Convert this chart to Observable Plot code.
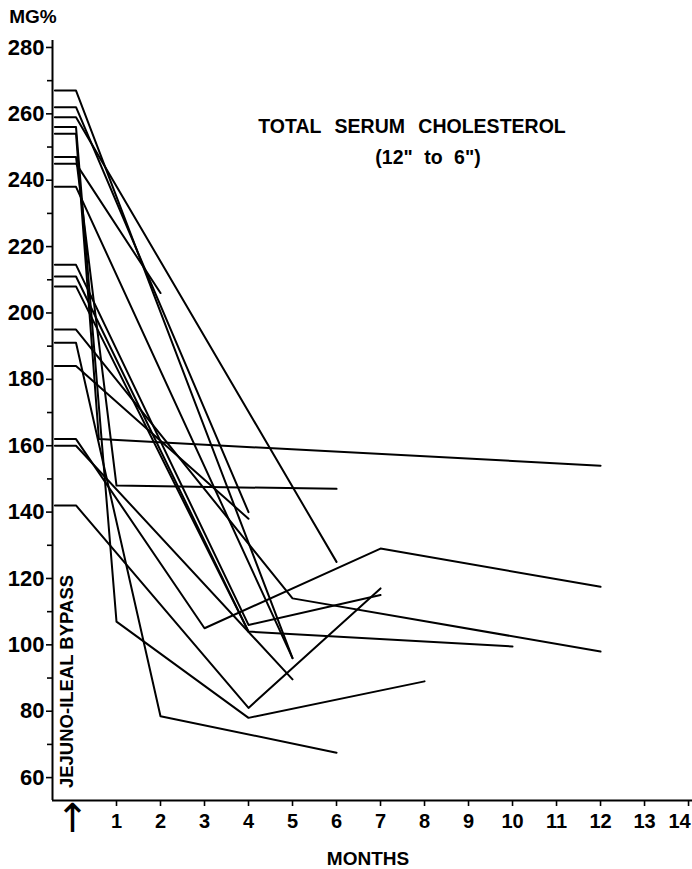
<!DOCTYPE html>
<html>
<head>
<meta charset="utf-8">
<script src="https://cdn.jsdelivr.net/npm/d3@7"></script>
<script src="https://cdn.jsdelivr.net/npm/@observablehq/plot@0.6"></script>
<style>
  html, body { margin: 0; padding: 0; background: #fff; }
  #wrap { position: relative; width: 692px; height: 869px; overflow: hidden; font-family: "Liberation Sans", Arial, sans-serif; color: #000; }
  .lbl { position: absolute; transform: translate(-50%, -50%); white-space: nowrap; font-weight: bold; line-height: 1; }
</style>
</head>
<body>
<div id="wrap">
  <div id="chart"></div>
  <div class="lbl" style="left:33px; top:16px; font-size:19px;">MG%</div>
  <div class="lbl" style="left:412px; top:127px; font-size:19.5px; word-spacing:8px;">TOTAL SERUM CHOLESTEROL</div>
  <div class="lbl" style="left:428px; top:158px; font-size:19.5px; word-spacing:6px;">(12" to 6")</div>
  <div class="lbl" style="left:368px; top:858px; font-size:19px;">MONTHS</div>
</div>
<script>
// Pre-operative values (mg%) for each patient, then follow-up points [month, value]
const preOp = [267, 262, 259, 256, 254, 247, 245, 238, 214.5, 211, 208, 195, 191, 184, 162, 160, 142];
const followUp = [
  [[5, 96]],
  [[4, 140]],
  [[6, 125]],
  [[1, 107], [4, 78], [8, 89]],
  [[0.6, 162], [12, 154]],
  [[1, 148], [6, 147]],
  [[2, 206]],
  [[5, 96]],
  [[4, 106], [7, 115]],
  [[4, 104], [10, 99.5]],
  [[4, 104]],
  [[5, 114], [12, 98]],
  [[2, 78.5], [6, 67.5]],
  [[4, 138]],
  [[3, 105], [7, 129], [12, 117.5]],
  [[5, 89.6]],
  [[4, 81], [7, 117]]
];
const preStart = -0.4;   // start of the pre-op level segment (month)
const surgery = 0.08;    // operation time (month)

const yMajor = [60, 80, 100, 120, 140, 160, 180, 200, 220, 240, 260, 280];
const yMinor = [70, 90, 110, 130, 150, 170, 190, 210, 230, 250, 270];
const xTicks = [1, 2, 3, 4, 5, 6, 7, 8, 9, 10, 11, 12, 13, 14];
const xLabelsMain = [1, 2, 3, 4, 5, 6, 7, 8, 9, 10, 11, 12, 13];
const xLabelsEdge = [14];

const xMin = -0.4545, xMax = 14.09;
const yMin = 53.1, yMax = 282.1;

const rows = [];
preOp.forEach((v, i) => {
  rows.push({id: i, m: preStart, v});
  rows.push({id: i, m: surgery, v});
  followUp[i].forEach(([m, val]) => rows.push({id: i, m, v: val}));
});

const chart = Plot.plot({
  width: 692,
  height: 869,
  marginLeft: 52,
  marginRight: 0,
  marginTop: 40,
  marginBottom: 69,
  x: {domain: [xMin, xMax]},
  y: {domain: [yMin, yMax]},
  style: {fontFamily: "Liberation Sans, Arial, sans-serif", color: "black", background: "white", overflow: "visible"},
  marks: [
    Plot.ruleX([xMin], {stroke: "black", strokeWidth: 2}),
    Plot.ruleY([yMin], {stroke: "black", strokeWidth: 2}),
    Plot.axisY(yMajor, {tickSize: 6, tickPadding: 2, fontSize: 22, fontWeight: "bold", label: null, strokeWidth: 1.6}),
    Plot.axisY(yMinor, {tickSize: 5, tickFormat: () => "", label: null, strokeWidth: 1.6}),
    Plot.axisX(xTicks, {tickSize: 6, tickFormat: () => "", label: null, strokeWidth: 1.6}),
    Plot.text(xLabelsMain, {x: d => d, frameAnchor: "bottom", dy: 27, text: d => String(d), fontSize: 20, fontWeight: "bold"}),
    Plot.text(xLabelsEdge, {x: d => d, frameAnchor: "bottom", dy: 27, dx: -9, text: d => String(d), fontSize: 20, fontWeight: "bold"}),
    Plot.text([0], {x: d => d, frameAnchor: "bottom", dy: 31, text: () => "↑", fontSize: 40, fontFamily: "DejaVu Sans"}),
    Plot.text(["JEJUNO-ILEAL BYPASS"], {frameAnchor: "bottom-left", dx: 20, dy: -119, rotate: -90, fontSize: 18.5, fontWeight: "bold", textAnchor: "middle"}),
    Plot.line(rows, {x: "m", y: "v", z: "id", stroke: "black", strokeWidth: 2, strokeLinejoin: "round"})
  ]
});
document.getElementById("chart").appendChild(chart);
</script>
</body>
</html>
